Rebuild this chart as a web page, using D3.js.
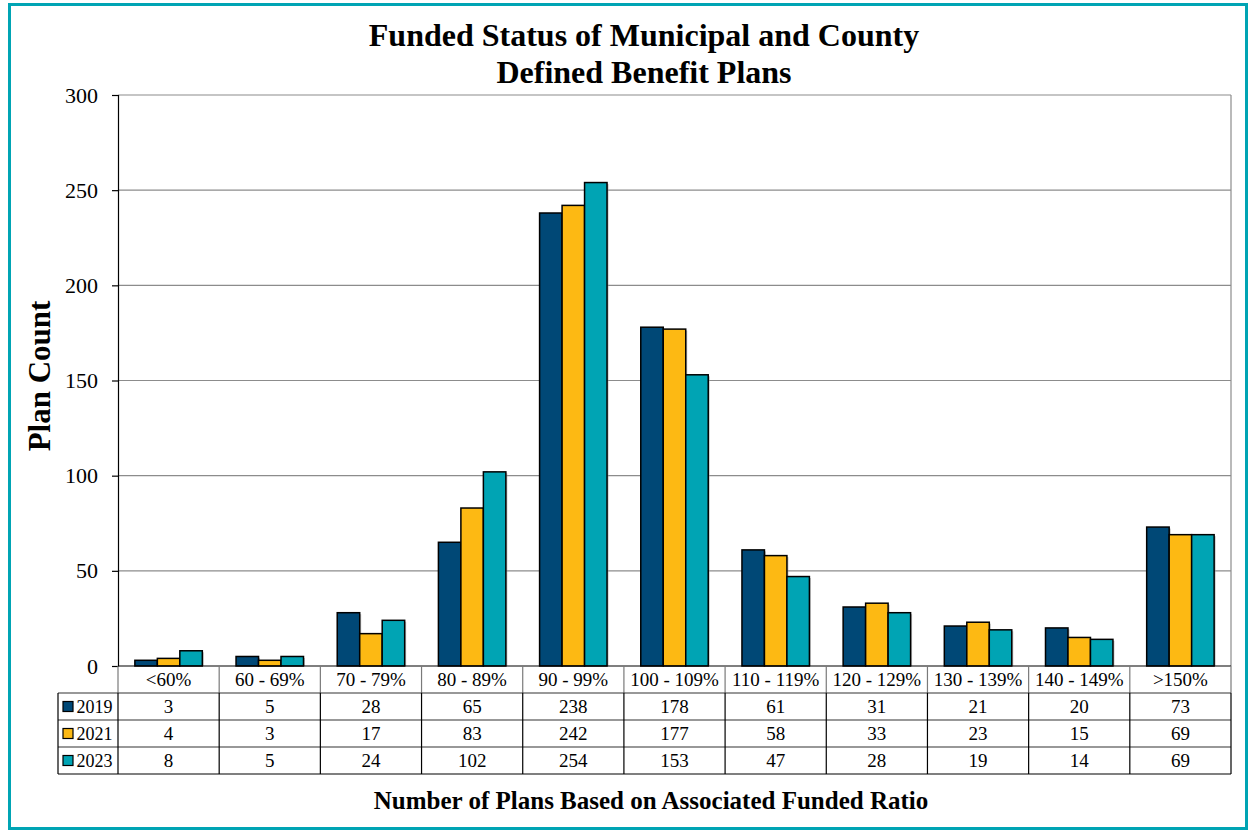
<!DOCTYPE html>
<html lang="en">
<head>
    <meta charset="UTF-8">
    <title>Funded Status of Municipal and County Defined Benefit Plans</title>
    <script src="https://cdnjs.cloudflare.com/ajax/libs/d3/7.8.5/d3.min.js"></script>
    <style>
        body {
            margin: 0;
            background-color: white;
        }

        svg text {
            font-family: "Liberation Serif", "Times New Roman", serif;
            fill: black;
        }
    </style>
</head>
<body>
<div id="chart"></div>
<script type="text/javascript">
    const categories = ['<60%', '60 - 69%', '70 - 79%', '80 - 89%', '90 - 99%', '100 - 109%',
        '110 - 119%', '120 - 129%', '130 - 139%', '140 - 149%', '>150%'];
    const years = ['2019', '2021', '2023'];
    const values2019 = [3, 5, 28, 65, 238, 178, 61, 31, 21, 20, 73];
    const values2021 = [4, 3, 17, 83, 242, 177, 58, 33, 23, 15, 69];
    const values2023 = [8, 5, 24, 102, 254, 153, 47, 28, 19, 14, 69];
    const yTicks = [0, 50, 100, 150, 200, 250, 300];
    const colors = ['#004876', '#fdb913', '#00a4b4'];

    const series = [values2019, values2021, values2023];

    const width = 1249;
    const height = 831;
    const plot = {left: 118, right: 1231, top: 95, bottom: 666};
    const rowH = 27;
    const serif = '"Liberation Serif", "Times New Roman", serif';

    const svg = d3.select('#chart')
        .append('svg')
        .attr('width', width)
        .attr('height', height);

    // outer frame
    svg.append('rect')
        .attr('x', 9.5).attr('y', 4.5)
        .attr('width', 1237).attr('height', 824)
        .attr('fill', 'white')
        .attr('stroke', '#00a4b4')
        .attr('stroke-width', 3);

    const x = d3.scaleBand()
        .domain(categories)
        .range([plot.left, plot.right]);

    const x1 = d3.scaleBand()
        .domain(years)
        .range([0, x.bandwidth()])
        .paddingOuter(0.75)
        .paddingInner(0);

    const y = d3.scaleLinear()
        .domain([0, 300])
        .range([plot.bottom, plot.top]);

    // gridlines
    svg.append('g')
        .selectAll('line')
        .data(yTicks.filter(t => t > 0))
        .enter()
        .append('line')
        .attr('x1', plot.left).attr('x2', plot.right)
        .attr('y1', d => y(d)).attr('y2', d => y(d))
        .attr('stroke', '#8c8c8c')
        .attr('stroke-width', 1.2);

    // plot area right border
    svg.append('line')
        .attr('x1', plot.right).attr('x2', plot.right)
        .attr('y1', plot.top).attr('y2', plot.bottom)
        .attr('stroke', '#8c8c8c')
        .attr('stroke-width', 1.2);

    // bars
    const groups = svg.append('g')
        .selectAll('g')
        .data(categories)
        .enter()
        .append('g')
        .attr('transform', d => `translate(${x(d)}, 0)`);

    groups.selectAll('rect.shadow')
        .data((c, i) => years.map((yr, s) => ({yr, s, v: series[s][i]})))
        .enter()
        .append('rect')
        .attr('class', 'shadow')
        .attr('x', d => x1(d.yr) + 1.5)
        .attr('y', d => y(d.v) + 1.5)
        .attr('width', x1.bandwidth())
        .attr('height', d => plot.bottom - y(d.v) - 1.5)
        .attr('fill', '#9a9a9a')
        .attr('opacity', 0.6);

    groups.selectAll('rect.bar')
        .data((c, i) => years.map((yr, s) => ({yr, s, v: series[s][i]})))
        .enter()
        .append('rect')
        .attr('class', 'bar')
        .attr('x', d => x1(d.yr))
        .attr('y', d => y(d.v))
        .attr('width', x1.bandwidth())
        .attr('height', d => plot.bottom - y(d.v))
        .attr('fill', d => colors[d.s])
        .attr('stroke', 'black')
        .attr('stroke-width', 1.5);

    // y axis
    const yAxis = d3.axisLeft(y).tickValues(yTicks).tickSize(6).tickPadding(14);
    const yG = svg.append('g')
        .attr('transform', `translate(${plot.left}, 0)`)
        .call(yAxis)
        .attr('font-family', serif);
    yG.select('.domain').attr('stroke', 'black').attr('stroke-width', 1.2);
    yG.selectAll('.tick line').attr('stroke', 'black').attr('stroke-width', 1.2);
    yG.selectAll('.tick text')
        .attr('font-size', 22)
        .attr('font-family', serif)
        .attr('fill', 'black');

    // x axis baseline
    svg.append('line')
        .attr('x1', plot.left).attr('x2', plot.right)
        .attr('y1', plot.bottom).attr('y2', plot.bottom)
        .attr('stroke', 'black')
        .attr('stroke-width', 1.2);

    // data table
    const table = svg.append('g');
    const tableLeft = 58;
    const tableBottom = plot.bottom + rowH * 4;

    // header cells
    table.selectAll('text.cat')
        .data(categories)
        .enter()
        .append('text')
        .attr('class', 'cat')
        .attr('x', d => x(d) + x.bandwidth() / 2)
        .attr('y', plot.bottom + rowH / 2 + 6.5)
        .attr('text-anchor', 'middle')
        .attr('font-size', 19)
        .text(d => d);

    // header vertical separators (gray)
    table.selectAll('line.hsep')
        .data(categories)
        .enter()
        .append('line')
        .attr('class', 'hsep')
        .attr('x1', d => x(d)).attr('x2', d => x(d))
        .attr('y1', plot.bottom).attr('y2', plot.bottom + rowH)
        .attr('stroke', '#7a7a7a')
        .attr('stroke-width', 1.2);
    table.append('line')
        .attr('x1', plot.right).attr('x2', plot.right)
        .attr('y1', plot.bottom).attr('y2', plot.bottom + rowH)
        .attr('stroke', '#7a7a7a')
        .attr('stroke-width', 1.2);

    // horizontal rules
    [1, 2, 3, 4].forEach(r => {
        table.append('line')
            .attr('x1', tableLeft).attr('x2', plot.right)
            .attr('y1', plot.bottom + rowH * r).attr('y2', plot.bottom + rowH * r)
            .attr('stroke', r === 4 ? 'black' : '#333')
            .attr('stroke-width', 1.2);
    });

    // vertical rules in data rows
    const vx = [tableLeft].concat(categories.map(c => x(c)), [plot.right]);
    table.selectAll('line.vsep')
        .data(vx)
        .enter()
        .append('line')
        .attr('class', 'vsep')
        .attr('x1', d => d).attr('x2', d => d)
        .attr('y1', plot.bottom + rowH).attr('y2', tableBottom)
        .attr('stroke', 'black')
        .attr('stroke-width', 1.2);

    // rows
    years.forEach((yr, s) => {
        const rowY = plot.bottom + rowH * (s + 1);
        table.append('rect')
            .attr('x', 63).attr('y', rowY + 8.5)
            .attr('width', 10).attr('height', 10)
            .attr('fill', colors[s])
            .attr('stroke', 'black')
            .attr('stroke-width', 1.2);
        table.append('text')
            .attr('x', 76.5)
            .attr('y', rowY + rowH / 2 + 6.5)
            .attr('font-size', 18)
            .text(yr);
        table.selectAll(`text.v${yr}`)
            .data(series[s])
            .enter()
            .append('text')
            .attr('class', `v${yr}`)
            .attr('x', (d, i) => x(categories[i]) + x.bandwidth() / 2)
            .attr('y', rowY + rowH / 2 + 6.5)
            .attr('text-anchor', 'middle')
            .attr('font-size', 19)
            .text(d => d);
    });

    // titles
    svg.append('text')
        .attr('x', 644).attr('y', 46)
        .attr('text-anchor', 'middle')
        .attr('font-size', 32)
        .attr('font-weight', 'bold')
        .text('Funded Status of Municipal and County');
    svg.append('text')
        .attr('x', 644).attr('y', 83)
        .attr('text-anchor', 'middle')
        .attr('font-size', 32)
        .attr('font-weight', 'bold')
        .text('Defined Benefit Plans');

    svg.append('text')
        .attr('transform', 'translate(50, 376) rotate(-90)')
        .attr('text-anchor', 'middle')
        .attr('font-size', 31)
        .attr('font-weight', 'bold')
        .text('Plan Count');

    svg.append('text')
        .attr('x', 651).attr('y', 809)
        .attr('text-anchor', 'middle')
        .attr('font-size', 25)
        .attr('font-weight', 'bold')
        .text('Number of Plans Based on Associated Funded Ratio');
</script>
</body>
</html>
